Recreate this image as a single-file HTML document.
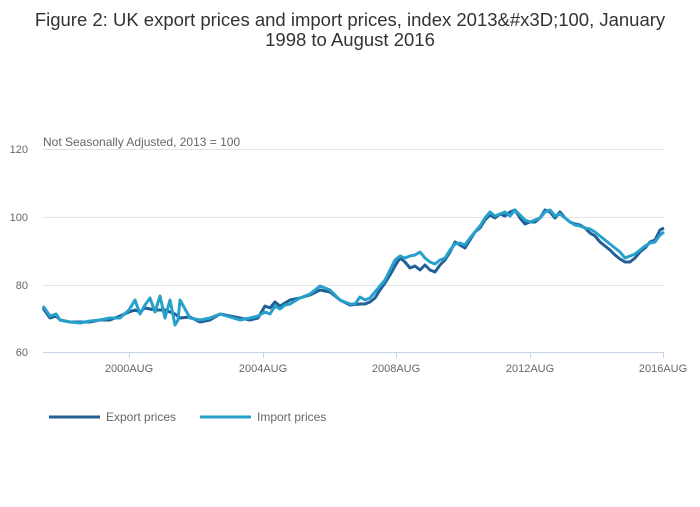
<!DOCTYPE html>
<html><head><meta charset="utf-8"><style>
body{margin:0;background:#fff;font-family:"Liberation Sans",sans-serif;}
</style></head><body>
<svg width="700" height="502" xmlns="http://www.w3.org/2000/svg" font-family="Liberation Sans, sans-serif">
<text x="350" y="26" text-anchor="middle" font-size="18.5" fill="#333">Figure 2: UK export prices and import prices, index 2013&amp;#x3D;100, January</text>
<text x="350" y="46" text-anchor="middle" font-size="18.5" fill="#333">1998 to August 2016</text>
<text x="43" y="146" font-size="12" fill="#666">Not Seasonally Adjusted, 2013 = 100</text>
<g stroke="#e1e3e8" stroke-width="1">
<line x1="43" y1="149.5" x2="664" y2="149.5"/>
<line x1="43" y1="217.5" x2="664" y2="217.5"/>
<line x1="43" y1="285.5" x2="664" y2="285.5"/>
</g>
<line x1="43" y1="352.5" x2="664" y2="352.5" stroke="#c6d3e6" stroke-width="1"/>
<g stroke="#c6d3e6"><line x1="129.5" y1="352" x2="129.5" y2="358"/><line x1="263.5" y1="352" x2="263.5" y2="358"/><line x1="396.5" y1="352" x2="396.5" y2="358"/><line x1="530.5" y1="352" x2="530.5" y2="358"/><line x1="663.5" y1="352" x2="663.5" y2="358"/></g>
<g font-size="11" fill="#666" text-anchor="end">
<text x="28" y="153">120</text><text x="28" y="221">100</text><text x="28" y="289">80</text><text x="28" y="356">60</text>
</g>
<g font-size="11" fill="#666" text-anchor="middle">
<text x="129" y="372">2000AUG</text><text x="263" y="372">2004AUG</text><text x="396" y="372">2008AUG</text><text x="530" y="372">2012AUG</text><text x="663" y="372">2016AUG</text>
</g>
<polyline fill="none" stroke="#206095" stroke-width="3" stroke-linejoin="round" points="43,308 50,318 56,316 60,320 70,322 80,322 90,322 100,320 110,320 120,316 129,312 135,310 140,312 145,308 155,310 165,310 175,314 180,318 190,317 200,322 210,320 220,314 230,316 240,318 250,320 258,318 265,306 270,308 275,302 280,306 285,303 290,300 300,298 310,295 320,290 330,292 340,300 350,305 360,304 365,304 370,302 375,298 380,290 385,283 390,275 395,266 400,258 405,262 410,268 415,266 420,270 425,265 430,270 435,272 440,265 445,260 450,252 455,242 460,245 465,248 470,240 475,232 480,228 485,220 490,215 495,218 500,214 505,216 510,212 515,210 520,218 525,224 530,222 535,222 540,218 545,210 550,212 555,218 560,212 565,218 570,222 575,224 580,225 585,228 590,233 595,236 600,242 605,246 610,250 615,255 620,259 625,262 630,262 635,258 640,252 645,248 650,242 655,240 660,230 664,228"/>
<polyline fill="none" stroke="#27a0cc" stroke-width="3" stroke-linejoin="round" points="43,306 50,316 56,314 60,320 70,322 80,323 90,321 100,320 110,318 120,318 129,310 135,300 140,314 145,305 150,298 155,312 160,296 165,318 170,300 175,325 178,320 180,300 190,318 200,320 210,318 220,314 230,317 240,320 250,318 258,316 265,312 270,314 275,306 280,309 285,305 290,304 300,298 310,294 320,286 330,290 340,300 350,304 355,304 360,297 365,300 370,298 375,292 380,286 385,280 390,270 395,260 400,256 405,258 410,256 415,255 420,252 425,258 430,262 435,264 440,260 445,258 450,250 455,244 460,243 465,245 470,238 475,232 480,226 485,218 490,212 495,216 500,214 505,212 510,216 515,210 520,215 525,220 530,222 535,220 540,218 545,212 550,210 555,216 560,214 565,218 570,222 575,225 580,226 585,228 590,229 595,232 600,236 605,240 610,244 615,248 620,252 625,258 630,256 635,254 640,250 645,246 650,243 655,242 660,235 664,232"/>
<line x1="49" y1="417" x2="100" y2="417" stroke="#206095" stroke-width="3"/>
<text x="106" y="421" font-size="12" fill="#666">Export prices</text>
<line x1="200" y1="417" x2="251" y2="417" stroke="#27a0cc" stroke-width="3"/>
<text x="257" y="421" font-size="12" fill="#666">Import prices</text>
</svg>
</body></html>
